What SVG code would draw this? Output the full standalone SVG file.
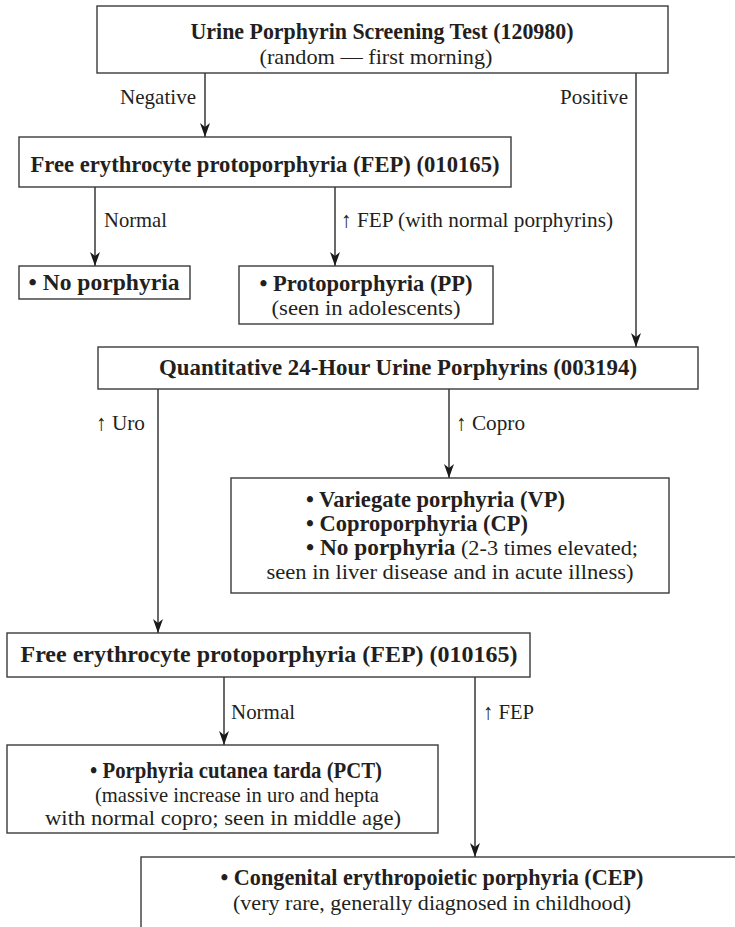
<svg xmlns="http://www.w3.org/2000/svg" width="735" height="927" viewBox="0 0 735 927" font-family="'Liberation Serif', 'Times New Roman', Times, serif">
<style>
  .box { fill: #ffffff; stroke: #3a3a3a; stroke-width: 1.4; }
  .ln { fill: none; stroke: #2a2a2a; stroke-width: 1.4; }
  text { font-family: 'Liberation Serif', 'Times New Roman', Times, serif; fill: #231f20; }
  .b { font-weight: bold; font-size: 23px; }
  .r { font-size: 22px; }
  .c { text-anchor: middle; }
</style>
<defs>
  <marker id="ah" markerUnits="userSpaceOnUse" markerWidth="14" markerHeight="10" viewBox="0 0 14 10" refX="14" refY="5" orient="auto">
    <path d="M0,0 L14,5 L0,10 L4,5 Z" fill="#1a1a1a"/>
  </marker>
</defs>
<rect width="735" height="927" fill="#ffffff"/>

<g id="connectors">
  <line class="ln" x1="205" y1="73" x2="205" y2="137" marker-end="url(#ah)"/>
  <text class="r" x="196" y="104" text-anchor="end" textLength="76" lengthAdjust="spacingAndGlyphs">Negative</text>
  <line class="ln" x1="636" y1="73" x2="636" y2="347" marker-end="url(#ah)"/>
  <text class="r" x="628" y="104" text-anchor="end" textLength="68" lengthAdjust="spacingAndGlyphs">Positive</text>

  <line class="ln" x1="95" y1="187" x2="95" y2="266" marker-end="url(#ah)"/>
  <text class="r" x="104" y="227" textLength="63" lengthAdjust="spacingAndGlyphs">Normal</text>
  <line class="ln" x1="335" y1="187" x2="335" y2="266" marker-end="url(#ah)"/>
  <text class="r" x="341" y="227" textLength="272" lengthAdjust="spacingAndGlyphs">↑ FEP (with normal porphyrins)</text>

  <line class="ln" x1="158" y1="389" x2="158" y2="633" marker-end="url(#ah)"/>
  <text class="r" x="96" y="430" textLength="49" lengthAdjust="spacingAndGlyphs">↑ Uro</text>
  <line class="ln" x1="449" y1="389" x2="449" y2="478" marker-end="url(#ah)"/>
  <text class="r" x="456" y="430" textLength="69" lengthAdjust="spacingAndGlyphs">↑ Copro</text>

  <line class="ln" x1="224" y1="677" x2="224" y2="745" marker-end="url(#ah)"/>
  <text class="r" x="231" y="719" textLength="64" lengthAdjust="spacingAndGlyphs">Normal</text>
  <line class="ln" x1="475" y1="677" x2="475" y2="857" marker-end="url(#ah)"/>
  <text class="r" x="483" y="719" textLength="51" lengthAdjust="spacingAndGlyphs">↑ FEP</text>
</g>

<g id="n-screen">
  <rect class="box" x="97" y="6" width="571" height="67"/>
  <text class="b c" x="382" y="39" textLength="383" lengthAdjust="spacingAndGlyphs">Urine Porphyrin Screening Test (120980)</text>
  <text class="r c" x="376" y="64" textLength="233" lengthAdjust="spacingAndGlyphs">(random — first morning)</text>
</g>

<g id="n-fep1">
  <rect class="box" x="19" y="137" width="492" height="50"/>
  <text class="b c" x="265" y="172" textLength="469" lengthAdjust="spacingAndGlyphs">Free erythrocyte protoporphyria (FEP) (010165)</text>
</g>

<g id="n-noporph1">
  <rect class="box" x="19" y="266" width="171" height="33"/>
  <text class="b c" x="104" y="290" textLength="151" lengthAdjust="spacingAndGlyphs">• No porphyria</text>
</g>

<g id="n-pp">
  <rect class="box" x="239" y="266" width="254" height="58"/>
  <text class="b c" x="366" y="291" textLength="213" lengthAdjust="spacingAndGlyphs">• Protoporphyria (PP)</text>
  <text class="r c" x="366" y="315" textLength="189" lengthAdjust="spacingAndGlyphs">(seen in adolescents)</text>
</g>

<g id="n-quant">
  <rect class="box" x="98" y="347" width="600" height="42"/>
  <text class="b c" x="398" y="375" textLength="478" lengthAdjust="spacingAndGlyphs">Quantitative 24-Hour Urine Porphyrins (003194)</text>
</g>

<g id="n-vp">
  <rect class="box" x="231" y="478" width="438" height="115"/>
  <text class="b" x="306" y="507" textLength="259" lengthAdjust="spacingAndGlyphs">• Variegate porphyria (VP)</text>
  <text class="b" x="306" y="531" textLength="222" lengthAdjust="spacingAndGlyphs">• Coproporphyria (CP)</text>
  <text x="306" y="555" textLength="332" lengthAdjust="spacingAndGlyphs"><tspan class="b">• No porphyria</tspan><tspan class="r"> (2-3 times elevated;</tspan></text>
  <text class="r c" x="450" y="579" textLength="367" lengthAdjust="spacingAndGlyphs">seen in liver disease and in acute illness)</text>
</g>

<g id="n-fep2">
  <rect class="box" x="7" y="633" width="523" height="44"/>
  <text class="b c" x="269" y="662" textLength="497" lengthAdjust="spacingAndGlyphs">Free erythrocyte protoporphyria (FEP) (010165)</text>
</g>

<g id="n-pct">
  <rect class="box" x="7" y="745" width="431" height="88"/>
  <text class="b c" x="236" y="778" textLength="292" lengthAdjust="spacingAndGlyphs">• Porphyria cutanea tarda (PCT)</text>
  <text class="r c" x="237" y="802" textLength="284" lengthAdjust="spacingAndGlyphs">(massive increase in uro and hepta</text>
  <text class="r c" x="223" y="825" textLength="356" lengthAdjust="spacingAndGlyphs">with normal copro; seen in middle age)</text>
</g>

<g id="n-cep">
  <rect class="box" x="141" y="857" width="640" height="120"/>
  <text class="b c" x="432" y="885" textLength="423" lengthAdjust="spacingAndGlyphs">• Congenital erythropoietic porphyria (CEP)</text>
  <text class="r c" x="432" y="910" textLength="398" lengthAdjust="spacingAndGlyphs">(very rare, generally diagnosed in childhood)</text>
</g>
</svg>
